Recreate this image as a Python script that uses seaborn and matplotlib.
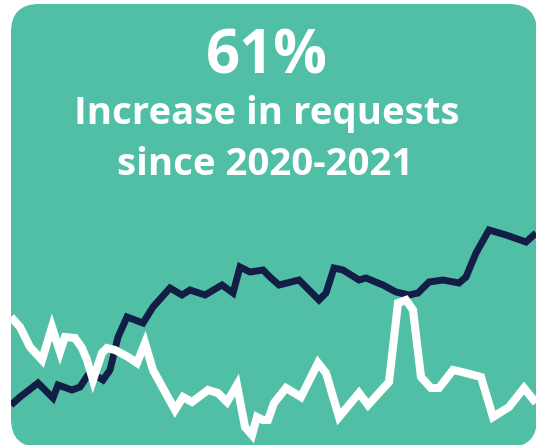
import matplotlib
matplotlib.use("Agg")
import matplotlib.pyplot as plt
import seaborn as sns
import pandas as pd
from matplotlib.patches import FancyBboxPatch

# ---- data (x position along period, value = relative level) ----
dark_x = [11, 20, 38, 53, 58, 72, 80, 90, 103, 110, 118, 127, 143, 153, 170, 182, 190, 205,
          222, 233, 240, 250, 263, 270, 279, 299, 319, 326, 334, 343, 359, 366, 383, 396,
          409, 418, 429, 443, 459, 466, 476, 489, 506, 526, 536]
dark_y = [40, 48, 62, 47, 60, 55, 58, 73, 65, 75, 108, 128, 122, 138, 157, 150, 155, 150,
          160, 152, 178, 173, 175, 168, 160, 165, 145, 152, 177, 175, 165, 167, 160, 153,
          150, 152, 163, 165, 162, 168, 192, 215, 210, 203, 212]

white_x = [11, 20, 30, 42, 52, 60, 65, 75, 82, 87, 93, 102, 107, 115, 128, 137, 145, 153,
           175, 183, 192, 208, 218, 227, 237, 245, 252, 257, 263, 268, 274, 286, 301, 318,
           326, 339, 359, 368, 389, 398, 406, 413, 421, 431, 439, 453, 466, 481, 493, 509,
           524, 536]
white_y = [128, 118, 98, 85, 118, 93, 108, 107, 97, 85, 65, 92, 97, 95, 88, 82, 102, 75,
           35, 48, 43, 55, 52, 43, 60, 18, 10, 28, 25, 25, 42, 57, 48, 82,
           72, 28, 52, 40, 63, 142, 145, 135, 68, 57, 57, 75, 72, 68, 28, 38,
           57, 42]

headline = "61%"
sub1 = "Increase in requests"
sub2 = "since 2020-2021"

teal = "#50BFA6"
navy = "#121E45"

df_dark = pd.DataFrame({"x": dark_x, "y": dark_y})
df_white = pd.DataFrame({"x": white_x, "y": white_y})

sns.set_style("white")
fig = plt.figure(figsize=(5.36, 4.45), dpi=100)
fig.patch.set_facecolor("white")
ax = fig.add_axes([0, 0, 1, 1])
ax.set_xlim(0, 536)
ax.set_ylim(0, 445)
ax.set_axis_off()

card = FancyBboxPatch((11, -2), 526, 443, boxstyle="round,pad=0,rounding_size=28",
                      facecolor=teal, edgecolor="none", zorder=0)
ax.add_patch(card)

sns.lineplot(data=df_dark, x="x", y="y", ax=ax, color=navy, linewidth=5.0,
             sort=False, estimator=None)
sns.lineplot(data=df_white, x="x", y="y", ax=ax, color="white", linewidth=5.8,
             sort=False, estimator=None)
for ln in ax.lines:
    ln.set_solid_joinstyle("miter")
    ln.set_solid_capstyle("butt")
    ln.set_clip_path(card)

fam = ["Open Sans", "DejaVu Sans"]
ax.text(267, 445 - 73, headline, ha="center", va="baseline", color="white",
        fontsize=43, fontweight="bold", family=fam)
ax.text(267, 445 - 124, sub1, ha="center", va="baseline", color="white",
        fontsize=27.6, fontweight="bold", family=fam)
ax.text(265, 445 - 175, sub2, ha="center", va="baseline", color="white",
        fontsize=27.6, fontweight="bold", family=fam)

fig.savefig("out.png", dpi=100, facecolor="white")
